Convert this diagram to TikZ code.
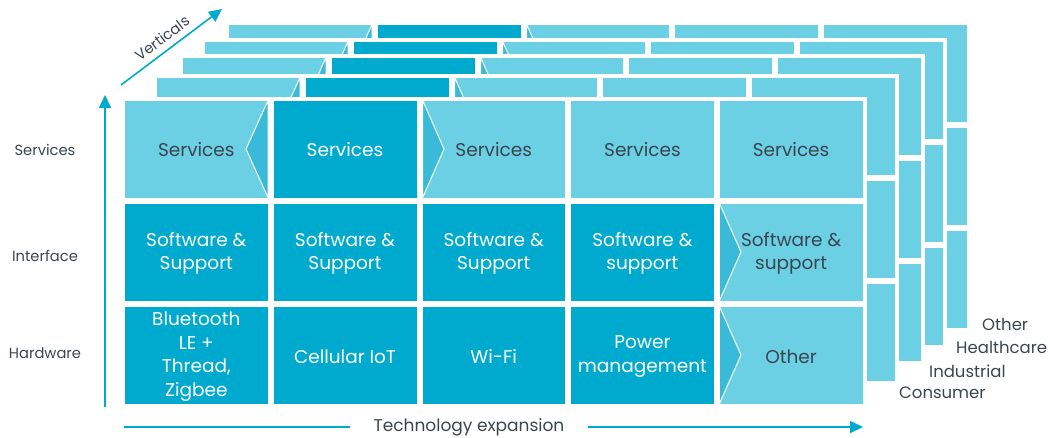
\documentclass[tikz,border=0pt]{standalone}
\usepackage{fontspec}
\setmainfont{Poppins}
\usetikzlibrary{arrows.meta}
\definecolor{lightc}{HTML}{6BD0E3}
\definecolor{darkc}{HTML}{00AACE}
\definecolor{midc}{HTML}{38BAD8}
\definecolor{txt}{HTML}{3A4550}
\newcommand\drawlayer{%
  \fill[white] (121.5,97) rectangle (866.5,407);
  \foreach \c/\r/\cl in {0/0/lightc,1/0/darkc,2/0/lightc,3/0/lightc,4/0/lightc,
                         0/1/darkc,1/1/darkc,2/1/darkc,3/1/darkc,4/1/lightc,
                         0/2/darkc,1/2/darkc,2/2/darkc,3/2/darkc,4/2/lightc}{%
    \pgfmathsetmacro\xa{124.5+148.7*\c}%
    \pgfmathsetmacro\xb{\xa+143.7}%
    \pgfmathsetmacro\ya{100+103*\r}%
    \pgfmathsetmacro\yb{\ya+98}%
    \filldraw[fill=\cl, draw=white, line width=0.6pt] (\xa,\ya) rectangle (\xb,\yb);
  }
  \filldraw[chev] (268.2,100) -- (246,149) -- (268.2,198) -- cycle;
  \filldraw[chev] (422.5,100) -- (444,149) -- (422.5,198) -- cycle;
  \filldraw[chev] (719.3,203) -- (741,252) -- (719.3,301) -- cycle;
  \filldraw[chev] (719.3,306) -- (741,355) -- (719.3,404) -- cycle;
}
\begin{document}
\begin{tikzpicture}[x=1pt,y=-1pt,
  chev/.style={fill=midc, draw=white, line width=1pt, line join=miter},
  celltxt/.style={font=\fontsize{18.5}{23.5}\selectfont, align=center, inner sep=0pt},
  lt/.style={celltxt, text=txt},
  dk/.style={celltxt, text=white},
  lab/.style={font=\fontsize{14.7}{17}\selectfont, text=txt, inner sep=0pt},
  rlab/.style={font=\fontsize{16.5}{19}\selectfont, text=txt, inner sep=0pt, anchor=west},
  axis/.style={draw=darkc, line width=1.6pt},
  tip/.style={-{Triangle[width=12pt,length=13pt]}}]
\useasboundingbox (0,0) rectangle (1048,437);
% back layers
\begin{scope}[shift={(104,-76)}]\drawlayer\end{scope}
\begin{scope}[shift={(80,-59)}]\drawlayer\end{scope}
\begin{scope}[shift={(58,-43)}]\drawlayer\end{scope}
\begin{scope}[shift={(32,-23)}]\drawlayer\end{scope}
% front layer
\drawlayer
% cell texts
\node[lt] (s0) at (196.3,149.5) {Services};
\node[dk] (s1) at (345.0,149.5) {Services};
\node[lt] (s2) at (493.7,149.5) {Services};
\node[lt] (s3) at (642.4,149.5) {Services};
\node[lt] (s4) at (791.1,149.5) {Services};
\node[dk] (i0) at (196.3,253.5) {Software \&\\Support};
\node[dk] (i1) at (345.0,253.5) {Software \&\\Support};
\node[dk] (i2) at (493.7,253.5) {Software \&\\Support};
\node[dk] (i3) at (642.4,253.5) {Software \&\\support};
\node[lt] (i4) at (791.1,253.5) {Software \&\\support};
\node[dk] (h0) at (196.3,356.5) {Bluetooth\\LE +\\Thread,\\Zigbee};
\node[dk] (h1) at (345.0,356.5) {Cellular IoT};
\node[dk] (h2) at (493.7,356.5) {Wi-Fi};
\node[dk] (h3) at (642.4,356.5) {Power\\management};
\node[lt] (h4) at (791.1,356.5) {Other};
% left labels
\node[lab] (ls) at (45,150) {Services};
\node[lab] (li) at (45,256) {Interface};
\node[lab] (lh) at (45,353) {Hardware};
% right labels
\node[rlab] (ro) at (982,324) {Other};
\node[rlab] (rh) at (956,347) {Healthcare};
\node[rlab] (ri) at (929,371) {Industrial};
\node[rlab] (rc) at (899,393) {Consumer};
% vertical axis
\coordinate (v0) at (105,407);
\coordinate (v1) at (105,95);
\draw[axis, tip] (v0) -- (v1);
% verticals axis
\coordinate (d0) at (121,85);
\coordinate (d1) at (222,9);
\draw[axis, tip] (d0) -- (d1);
\node[lab, rotate=37] (vt) at (162,38) {Verticals};
% technology expansion axis
\coordinate (b0) at (124,427);
\coordinate (b1) at (863,427);
\node[lab, font=\fontsize{17}{20}\selectfont, inner xsep=23pt] (te) at (469,427) {Technology expansion};
\draw[axis] (b0) -- (te.west);
\draw[axis, tip] (te.east) -- (b1);
\end{tikzpicture}
\end{document}
